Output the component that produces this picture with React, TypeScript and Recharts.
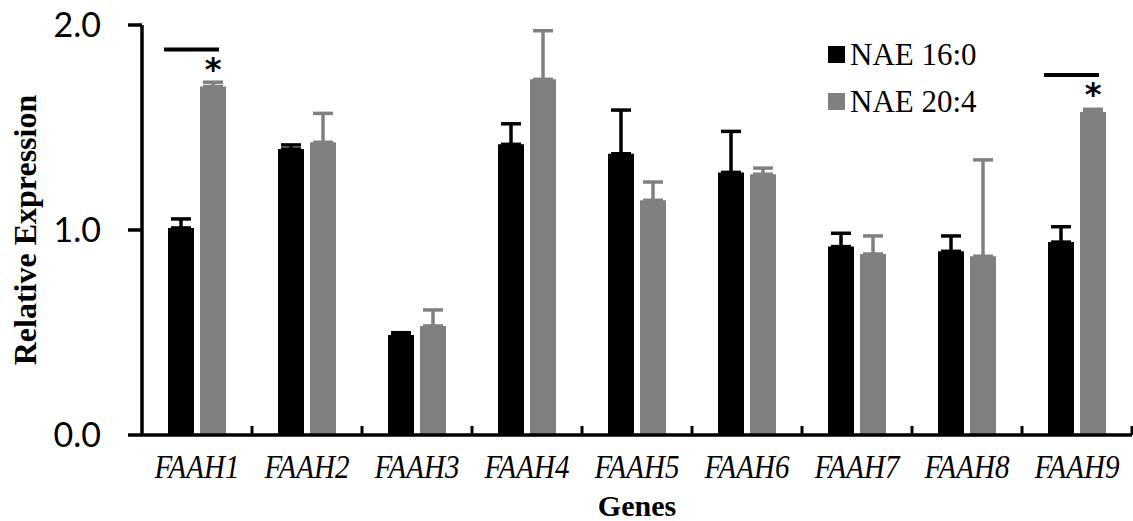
import React from 'react';
import { BarChart, Bar, XAxis, YAxis, ErrorBar, Legend, LabelList, Label } from 'recharts';

const genes = ['FAAH1', 'FAAH2', 'FAAH3', 'FAAH4', 'FAAH5', 'FAAH6', 'FAAH7', 'FAAH8', 'FAAH9'];
const nae160 = [1.01, 1.395, 0.488, 1.418, 1.372, 1.281, 0.919, 0.896, 0.941];
const nae160Err = [0.044, 0.02, 0.011, 0.1, 0.213, 0.2, 0.065, 0.075, 0.075];
const nae204 = [1.7, 1.428, 0.532, 1.735, 1.145, 1.272, 0.883, 0.872, 1.576];
const nae204Err = [0.021, 0.141, 0.078, 0.237, 0.089, 0.03, 0.088, 0.47, 0.013];
const sig = ['*', '', '', '', '', '', '', '', '*'];
const yTicks = [0, 1, 2];

const data = genes.map((gene, i) => ({
  gene,
  a: nae160[i],
  aErr: [0, nae160Err[i]],
  b: nae204[i],
  bErr: [0, nae204Err[i]],
  sig: sig[i],
}));

const BLACK = '#000000';
const GRAY = '#808080';
const SERIF = "'Liberation Serif', 'Times New Roman', serif";

const GeneTick = (props: any) => {
  const { x, y, payload } = props;
  const half = payload.offset || 0;
  return (
    <g>
      <line x1={x + half} x2={x + half} y1={y - 9} y2={y} stroke={BLACK} strokeWidth={3} />
      <text
        transform={`translate(${x},${y + 43}) scale(0.88,1)`}
        textAnchor="middle"
        fontFamily={SERIF}
        fontStyle="italic"
        fontSize={33}
        fill={BLACK}
      >
        {payload.value}
      </text>
    </g>
  );
};

const SigMark = (props: any) => {
  const { x, y, width, value } = props;
  if (!value) return null;
  return (
    <g>
      <line x1={x - 36} x2={x + 19} y1={y - 37} y2={y - 37} stroke={BLACK} strokeWidth={4} />
      <text
        x={x + width / 2}
        y={y - 7}
        textAnchor="middle"
        fontFamily="'DejaVu Sans', sans-serif"
        fontWeight="bold"
        fontSize={32}
        fill={BLACK}
      >
        {value}
      </text>
    </g>
  );
};

const LegendBox = () => {
  const rows = [
    { name: 'NAE 16:0', color: BLACK },
    { name: 'NAE 20:4', color: GRAY },
  ];
  return (
    <div style={{ fontFamily: SERIF, fontSize: 31, color: BLACK }}>
      {rows.map((r) => (
        <div key={r.name} style={{ display: 'flex', alignItems: 'center', height: 47 }}>
          <span style={{ width: 17, height: 17, background: r.color, marginRight: 5, display: 'inline-block' }} />
          <span>{r.name}</span>
        </div>
      ))}
    </div>
  );
};

export default function App() {
  return (
    <div style={{ position: 'absolute', left: 0, top: 0, width: 1133, height: 521, background: '#fff' }}>
      <BarChart
        width={1133}
        height={521}
        data={data}
        margin={{ top: 25, right: 1, left: 0, bottom: 0 }}
        barSize={26}
        barGap={6}
      >
        <XAxis
          dataKey="gene"
          height={86}
          tick={<GeneTick />}
          tickLine={false}
          tickSize={0}
          tickMargin={0}
          axisLine={{ stroke: BLACK, strokeWidth: 3.5 }}
          interval={0}
        >
          <Label
            value="Genes"
            position="insideBottom"
            offset={5}
            style={{ fontFamily: SERIF, fontWeight: 'bold', fontSize: 30, fill: BLACK }}
          />
        </XAxis>
        <YAxis
          width={142}
          domain={[0, 2]}
          ticks={yTicks}
          tickFormatter={(v: number) => v.toFixed(1)}
          tick={{ fontFamily: 'Lato', fontSize: 34, fill: BLACK }}
          tickSize={14}
          tickMargin={27}
          tickLine={{ stroke: BLACK, strokeWidth: 3.5 }}
          axisLine={{ stroke: BLACK, strokeWidth: 3.5 }}
        >
          <Label
            value="Relative Expression"
            angle={-90}
            position="insideLeft"
            offset={25}
            style={{ fontFamily: SERIF, fontWeight: 'bold', fontSize: 32, fill: BLACK, textAnchor: 'middle' }}
          />
        </YAxis>
        <Legend
          layout="vertical"
          align="center"
          verticalAlign="middle"
          content={<LegendBox />}
          wrapperStyle={{ left: 828, top: 31, width: 230 }}
        />
        <Bar dataKey="a" name="NAE 16:0" fill={BLACK} isAnimationActive={false}>
          <ErrorBar dataKey="aErr" direction="y" width={10} strokeWidth={3.5} stroke={BLACK} />
        </Bar>
        <Bar dataKey="b" name="NAE 20:4" fill={GRAY} isAnimationActive={false}>
          <ErrorBar dataKey="bErr" direction="y" width={10} strokeWidth={3.5} stroke={GRAY} />
          <LabelList dataKey="sig" content={<SigMark />} />
        </Bar>
      </BarChart>
    </div>
  );
}
